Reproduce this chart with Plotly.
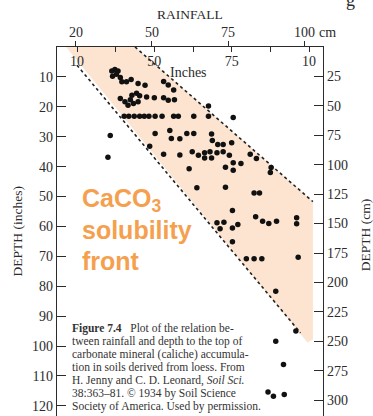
import plotly.graph_objects as go

# ---- data (rainfall in inches, depth in inches) ----
rain_in = [
    14.5, 14.9, 15.3, 14.6, 15.1, 15.6, 15.8, 16.4, 17.0, 17.9, 18.8, 21.2, 21.8, 22.5,
    17.1, 17.7, 18.1, 15.6, 16.2, 16.9, 16.6, 17.3, 17.9, 19.0, 20.0, 21.2, 21.8, 22.6,
    16.1, 16.7, 17.4, 18.1, 18.7, 19.3, 20.1, 21.0, 22.5, 23.1, 25.1, 27.0,
    30.2, 27.0, 14.3, 14.0,
    20.1, 22.0, 22.2, 23.3, 24.2, 25.1, 27.4, 27.5, 19.4, 28.2, 28.9, 30.0,
    21.2, 23.3, 24.9, 25.7, 26.5, 27.2, 26.5, 27.4, 28.1, 28.9, 29.7, 32.4, 33.2,
    30.2, 31.2, 29.2, 30.2, 24.5, 35.1, 35.0,
    25.5, 29.2, 32.9, 33.6,
    30.1, 28.1, 29.0, 28.5, 30.1, 30.8, 30.1, 33.1, 34.0, 34.8, 35.8, 38.4, 38.4,
    31.9, 32.9, 33.9, 38.6,
    35.7, 38.3, 35.7, 36.7, 34.7, 35.4, 36.8,
]
depth_in = [
    8.0, 7.5, 8.0, 9.8, 9.1, 10.2, 11.6, 11.6, 10.9, 12.2, 12.8, 11.5, 12.7, 14.4,
    16.1, 15.5, 16.3, 17.2, 18.3, 17.6, 19.5, 18.9, 18.3, 16.7, 17.0, 17.0, 17.8, 17.6,
    23.2, 23.2, 23.2, 23.2, 23.2, 23.2, 23.2, 23.2, 23.2, 23.2, 23.2, 23.2,
    23.6, 19.7, 29.6, 36.9,
    28.9, 27.9, 30.6, 30.7, 28.9, 28.9, 29.1, 31.3, 33.2, 32.6, 32.6, 32.0,
    35.9, 36.1, 35.0, 36.2, 35.4, 35.0, 37.1, 37.1, 35.4, 35.0, 36.2, 35.9, 37.3,
    38.7, 39.0, 40.2, 41.2, 40.7, 40.3, 42.0,
    47.1, 46.9, 48.8, 48.8,
    54.7, 58.8, 58.6, 60.8, 60.5, 59.4, 65.1, 56.8, 58.3, 59.0, 58.3, 57.1, 59.1,
    70.8, 70.8, 70.8, 70.3,
    81.7, 95.0, 98.4, 106.2, 115.4, 116.8, 116.2,
]

# shaded "solubility front" band and its dotted boundaries
band_rain = [8.6, 17.5, 40.5, 40.5, 39.8, 8.6]
band_depth = [0.0, 0.0, 51.7, 97.8, 98.8, 0.0]
left_edge_rain = [10.0, 38.9]
left_edge_depth = [6.1, 95.6]
right_edge_rain = [17.5, 40.5]
right_edge_depth = [0.0, 51.7]

# axes
x_range = [7.414, 41.81]          # inches of rainfall
y_range_in = [123.4, 0.0]         # depth, inches (reversed)
CM_PER_IN = 2.54
inch_ticks = [10, 20, 30, 40]
inch_ticktext = ["10", "50", "75", "10"]
inch_minor_ticks = [15, 25, 35]
cm_ticks = [25, 50, 75, 100]
cm_ticktext = ["20", "50", "75", "100"]
depth_in_ticks = [10, 20, 30, 40, 50, 60, 70, 80, 90, 100, 110, 120]
depth_cm_ticks = [25, 50, 75, 100, 125, 150, 175, 200, 225, 250, 275, 300]

caption_lines = [
    "<b>Figure 7.4</b>   Plot of the relation be-",
    "tween rainfall and depth to the top of",
    "carbonate mineral (caliche) accumula-",
    "tion in soils derived from loess. From",
    "H. Jenny and C. D. Leonard, <i>Soil Sci.</i>",
    "38:363–81. © 1934 by Soil Science",
    "Society of America. Used by permission.",
]
caption_depths = [94.0, 98.35, 102.7, 107.05, 111.4, 115.75, 120.1]

SERIF = "Liberation Serif, Times New Roman, serif"
SANS = "Liberation Sans, Arial, sans-serif"
INK = "#2b2b2b"
ORANGE = "#F5A04E"

fig = go.Figure()
fig.add_trace(go.Scatter(x=band_rain, y=band_depth, fill="toself",
                         fillcolor="#FCE4D0", line=dict(width=0),
                         mode="lines", hoverinfo="skip", showlegend=False))
fig.add_trace(go.Scatter(x=left_edge_rain, y=left_edge_depth, mode="lines",
                         line=dict(color="#222", width=1.6, dash="dot"),
                         showlegend=False))
fig.add_trace(go.Scatter(x=right_edge_rain, y=right_edge_depth, mode="lines",
                         line=dict(color="#222", width=1.6, dash="dot"),
                         showlegend=False))
fig.add_trace(go.Scatter(x=rain_in, y=depth_in, mode="markers",
                         marker=dict(color="#111", size=5.5),
                         showlegend=False))
# invisible helpers for the secondary axes
fig.add_trace(go.Scatter(x=[x_range[0]], y=[0], xaxis="x2", yaxis="y",
                         mode="markers", marker=dict(opacity=0), showlegend=False,
                         hoverinfo="skip"))
fig.add_trace(go.Scatter(x=[x_range[0]], y=[0], xaxis="x", yaxis="y2",
                         mode="markers", marker=dict(opacity=0), showlegend=False,
                         hoverinfo="skip"))

def note(text, x, y, xref="paper", yref="paper", size=14, angle=0,
         xanchor="center", family=SERIF, color=INK, **kw):
    return dict(text=text, x=x, y=y, xref=xref, yref=yref, showarrow=False,
                xanchor=xanchor, yanchor="middle", textangle=angle,
                font=dict(family=family, size=size, color=color, **kw))

annotations = [
    note("RAINFALL", 0.5, 1.089, size=13.5),
    note("DEPTH (inches)", -0.147, 0.50, size=13.5, angle=-90),
    note("DEPTH (cm)", 1.158, 0.49, size=13.5, angle=-90),
    note("g", 1.105, 1.128, size=18),
    note("cm", 1.016, 1.038, size=14),
    note("Inches", 24.4, 8.4, xref="x", yref="y", size=14),
]
for c, t in zip(cm_ticks, cm_ticktext):
    annotations.append(note(t, c / CM_PER_IN, 1.038, xref="x", size=14))
for txt, yy in zip(["CaCO<sub>3</sub>", "solubility", "front"], [51.3, 61.2, 71.4]):
    annotations.append(note(txt, 10.4, yy, xref="x", yref="y", size=25,
                            xanchor="left", family=SANS, color=ORANGE, weight="bold"))
for txt, yy in zip(caption_lines, caption_depths):
    annotations.append(note(txt, 9.1, yy, xref="x", yref="y", size=11.5,
                            xanchor="left", color="#333"))

fig.update_layout(
    width=373, height=416,
    margin=dict(l=57, r=50, t=47, b=0),
    paper_bgcolor="white", plot_bgcolor="white",
    xaxis=dict(range=x_range, side="top", tickvals=inch_ticks, ticktext=inch_ticktext,
               ticks="inside", ticklen=5, tickwidth=1, tickcolor=INK,
               minor=dict(tickvals=inch_minor_ticks, ticks="inside", ticklen=5,
                          tickwidth=1, tickcolor=INK, showgrid=False),
               ticklabelposition="inside", ticklabelstandoff=4,
               showline=True, linecolor=INK, linewidth=1.2,
               showgrid=False, zeroline=False,
               tickfont=dict(family=SERIF, size=14, color=INK)),
    xaxis2=dict(range=x_range, side="top", overlaying="x", anchor="y",
                tickvals=[c / CM_PER_IN for c in cm_ticks], showticklabels=False,
                ticks="outside", ticklen=5, tickwidth=1, tickcolor=INK,
                showline=False, showgrid=False, zeroline=False),
    yaxis=dict(range=y_range_in, tickvals=depth_in_ticks, ticks="inside", ticklen=9,
               tickwidth=1, tickcolor=INK, showline=True, linecolor=INK, linewidth=1.2,
               showgrid=False, zeroline=False,
               tickfont=dict(family=SERIF, size=14, color=INK)),
    yaxis2=dict(range=[v * CM_PER_IN for v in y_range_in], overlaying="y", side="right",
                anchor="x", tickvals=depth_cm_ticks, ticks="inside", ticklen=9,
                tickwidth=1, tickcolor=INK, showline=True, linecolor=INK, linewidth=1.2,
                showgrid=False, zeroline=False,
                tickfont=dict(family=SERIF, size=14, color=INK)),
    annotations=annotations,
)

fig.write_html("out.html")
